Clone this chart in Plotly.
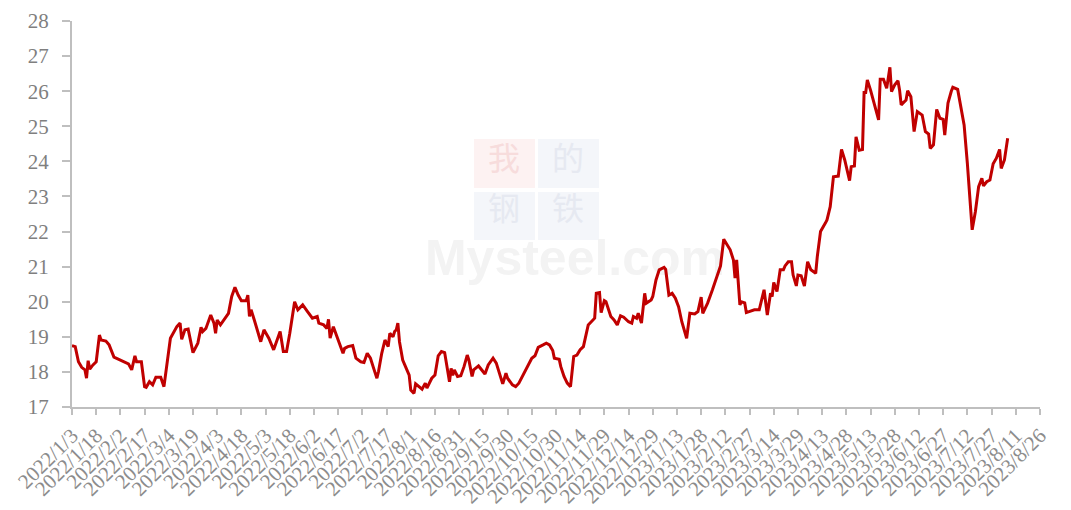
import pandas as pd
import plotly.graph_objects as go

# Days since 2022-01-03 and prices
day_offsets = [
    0, 2, 4, 6, 8, 9, 10, 11, 13, 15, 17, 18, 21, 23, 26, 30, 35, 37, 39, 40,
    43, 45, 46, 48, 50, 52, 55, 57, 59, 61, 65, 67, 68, 70, 72, 75, 78, 80, 81, 83,
    86, 88, 89, 90, 92, 95, 97, 99, 101, 103, 105, 108, 109, 110, 111, 113, 117, 119, 122, 125,
    127, 129, 131, 133, 135, 138, 140, 143, 146, 149, 152, 153, 156, 158, 159, 160, 162, 164, 166, 168,
    169, 171, 174, 176, 179, 181, 183, 185, 187, 189, 190, 192, 194, 196, 197, 199, 200, 201, 202, 203,
    205, 207, 209, 210, 212, 213, 215, 217, 219, 220, 223, 225, 227, 229, 231, 232, 234, 235, 236, 237,
    239, 241, 243, 245, 246, 248, 249, 252, 254, 256, 258, 261, 263, 265, 267, 269, 270, 273, 275, 277,
    279, 282, 285, 287, 289, 292, 294, 296, 298, 299, 302, 303, 305, 307, 309, 311, 313, 315, 317, 320,
    322, 324, 325, 327, 328, 330, 331, 334, 336, 338, 340, 342, 345, 347, 348, 350, 351, 353, 355, 356,
    359, 360, 362, 364, 367, 368, 370, 372, 374, 376, 378, 381, 383, 386, 388, 390, 391, 394, 397, 400,
    402, 404, 406, 408, 410, 411, 412, 414, 415, 417, 418, 420, 423, 426, 427, 429, 431, 433, 434, 435,
    437, 439, 441, 442, 444, 446, 447, 449, 450, 452, 454, 456, 458, 461, 462, 464, 467, 468, 470, 472,
    475, 477, 479, 480, 482, 483, 485, 486, 488, 490, 491, 492, 493, 495, 498, 500, 501, 503, 505, 507,
    508, 510, 512, 513, 514, 517, 518, 520, 522, 524, 527, 529, 531, 532, 534, 536, 538, 540, 541, 543,
    545, 546, 549, 551, 553, 555, 557, 558, 560, 562, 564, 565, 567, 569, 571, 573, 575, 576, 578, 580,
]
prices = [
    18.75, 18.72, 18.29, 18.13, 18.06, 17.82, 18.32, 18.08, 18.20, 18.29, 19.05, 18.91, 18.88, 18.77, 18.42, 18.34, 18.23, 18.06, 18.46, 18.29,
    18.29, 17.58, 17.56, 17.72, 17.63, 17.85, 17.85, 17.58, 18.34, 18.96, 19.29, 19.39, 18.93, 19.20, 19.22, 18.55, 18.82, 19.27, 19.15, 19.24,
    19.62, 19.39, 19.10, 19.48, 19.34, 19.56, 19.67, 20.15, 20.41, 20.19, 20.03, 20.03, 20.19, 19.58, 19.77, 19.48, 18.86, 19.20, 18.96, 18.63,
    18.91, 19.15, 18.58, 18.58, 19.10, 20.00, 19.77, 19.91, 19.72, 19.53, 19.58, 19.39, 19.34, 19.24, 19.50, 18.96, 19.29, 19.05, 18.77, 18.53,
    18.67, 18.72, 18.75, 18.39, 18.29, 18.27, 18.53, 18.39, 18.10, 17.82, 18.01, 18.53, 18.91, 18.72, 19.10, 19.00, 19.15, 19.20, 19.39, 18.86,
    18.34, 18.10, 17.91, 17.48, 17.39, 17.66, 17.58, 17.51, 17.68, 17.54, 17.82, 17.91, 18.46, 18.58, 18.55, 18.25, 17.72, 18.10, 17.90, 18.06,
    17.87, 17.89, 18.15, 18.48, 18.34, 17.87, 18.06, 18.17, 18.06, 17.94, 18.20, 18.39, 18.25, 17.96, 17.66, 17.96, 17.82, 17.63, 17.58, 17.68,
    17.85, 18.10, 18.39, 18.46, 18.70, 18.77, 18.82, 18.77, 18.61, 18.39, 18.36, 18.15, 17.87, 17.68, 17.58, 18.44, 18.48, 18.63, 18.72, 19.34,
    19.43, 19.53, 20.24, 20.26, 19.69, 20.03, 20.00, 19.58, 19.48, 19.34, 19.60, 19.56, 19.43, 19.39, 19.58, 19.53, 19.67, 19.39, 20.24, 19.96,
    20.05, 20.15, 20.62, 20.91, 20.98, 20.92, 20.19, 20.24, 20.10, 19.86, 19.43, 18.96, 19.67, 19.65, 19.72, 20.13, 19.67, 19.96, 20.34, 20.72,
    21.02, 21.78, 21.62, 21.48, 21.19, 20.67, 21.19, 19.91, 20.00, 19.97, 19.69, 19.72, 19.77, 19.77, 19.96, 20.34, 19.62, 20.24, 20.15, 20.55,
    20.29, 20.91, 20.91, 21.02, 21.14, 21.14, 20.76, 20.45, 20.76, 20.74, 20.45, 21.14, 20.91, 20.81, 21.29, 22.00, 22.24, 22.33, 22.71, 23.56,
    23.58, 24.34, 24.04, 23.85, 23.45, 23.85, 23.87, 24.70, 24.32, 24.34, 25.96, 25.96, 26.32, 26.03, 25.51, 25.18, 26.34, 26.34, 26.08, 26.68,
    25.99, 26.18, 26.30, 26.03, 25.61, 25.75, 26.01, 25.84, 24.85, 25.42, 25.32, 24.85, 24.78, 24.37, 24.47, 25.48, 25.23, 25.20, 24.75, 25.66,
    25.99, 26.11, 26.05, 25.56, 25.04, 23.95, 22.62, 22.05, 22.57, 23.28, 23.52, 23.30, 23.42, 23.47, 23.93, 24.09, 24.34, 23.80, 24.04, 24.66,
]

start_date = pd.Timestamp("2022-01-03")
end_date = pd.Timestamp("2023-08-26")
dates = start_date + pd.to_timedelta(day_offsets, unit="D")

y_range = [17, 28]

LINE_COLOR = "#C00000"
AXIS_COLOR = "#BFBFBF"
TEXT_COLOR = "#7F7F7F"
FONT = "Liberation Serif"

# Page has an 8px body margin; figure sized to fill the 1071x510 window.
OFF = 8
W, H = 1071 - OFF, 510 - OFF
# plot area in window pixels: x 72..1040, y 21..407
L, R, T, B = 72 - OFF, 1040 - OFF, 21 - OFF, 407 - OFF

# watermark placement helpers (window pixels -> axis values on the main axes)
span = end_date + pd.Timedelta(hours=1) - start_date

def wx(x):
    return start_date + span * ((x - 72) / (1040 - 72))

def wy(y):
    return y_range[0] + (y_range[1] - y_range[0]) * (407 - y) / (407 - 21)

def fx(x):
    return (x - 72) / (1040 - 72)

def fy(y):
    return (407 - y) / (407 - 21)

fig = go.Figure()

shapes = [
    dict(type="rect", xref="paper", yref="paper", x0=fx(474), x1=fx(535), y0=fy(188), y1=fy(139),
         fillcolor="#FDF2F2", line=dict(width=0), layer="below"),
    dict(type="rect", xref="paper", yref="paper", x0=fx(538), x1=fx(599), y0=fy(188), y1=fy(139),
         fillcolor="#F4F6FA", line=dict(width=0), layer="below"),
    dict(type="rect", xref="paper", yref="paper", x0=fx(474), x1=fx(535), y0=fy(240), y1=fy(192),
         fillcolor="#F4F6FA", line=dict(width=0), layer="below"),
    dict(type="rect", xref="paper", yref="paper", x0=fx(538), x1=fx(599), y0=fy(240), y1=fy(192),
         fillcolor="#F4F6FA", line=dict(width=0), layer="below"),
]
# faint watermark text drawn first, beneath the price line
fig.add_trace(go.Scatter(
    x=[wx(504), wx(568), wx(504), wx(568)], y=[wy(162), wy(162), wy(212), wy(212)],
    text=["我", "的", "钢", "铁"], mode="text",
    textfont=dict(family="Noto Sans CJK SC", size=32,
                  color=["#F7DCDC", "#E6E9F1", "#E6E9F1", "#E6E9F1"]),
    hoverinfo="skip", showlegend=False,
))
fig.add_trace(go.Scatter(
    x=[wx(575)], y=[wy(262)], text=["<b>Mysteel.com</b>"], mode="text",
    textfont=dict(family="Liberation Sans", size=50, color="#F3F3F3"),
    hoverinfo="skip", showlegend=False,
))

fig.add_trace(go.Scatter(
    x=dates, y=prices, mode="lines",
    line=dict(color=LINE_COLOR, width=3),
    hoverinfo="x+y", showlegend=False,
))

fig.update_layout(
    width=W, height=H,
    margin=dict(l=L, r=W - R, t=T, b=H - B),
    paper_bgcolor="white", plot_bgcolor="white",
    shapes=shapes,
    font=dict(family=FONT, color=TEXT_COLOR),
    xaxis=dict(
        type="date",
        range=[start_date, end_date + pd.Timedelta(hours=1)],
        tick0=start_date, dtick=15 * 86400000, tickformat="%Y/%-m/%-d",
        tickangle=-45, tickfont=dict(family=FONT, size=21, color="#8C8C8C"),
        showline=True, linecolor=AXIS_COLOR, linewidth=2,
        ticks="outside", ticklen=6, tickcolor=AXIS_COLOR, tickwidth=2,
        showgrid=False, zeroline=False, automargin=False,
    ),
    yaxis=dict(
        range=y_range, dtick=1, tick0=17,
        tickfont=dict(family=FONT, size=21, color=TEXT_COLOR),
        showline=True, linecolor=AXIS_COLOR, linewidth=2,
        ticks="outside", ticklen=8, tickcolor=AXIS_COLOR, tickwidth=2,
        ticklabelstandoff=9,
        showgrid=False, zeroline=False, automargin=False,
    ),
)

fig.write_html("out.html")
